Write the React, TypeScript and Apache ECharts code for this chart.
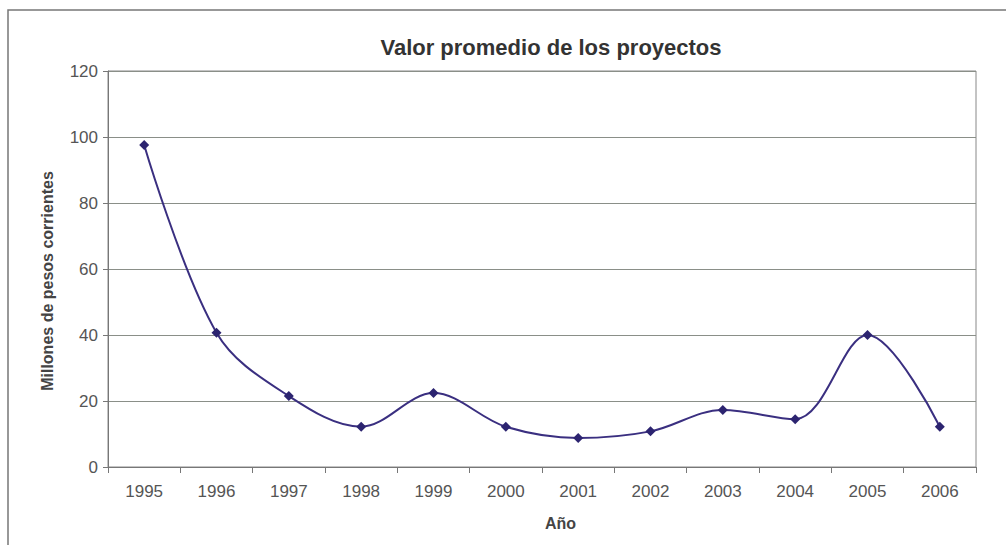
import React, { useEffect, useRef } from "react";
import * as echarts from "echarts";

const years = ["1995", "1996", "1997", "1998", "1999", "2000", "2001", "2002", "2003", "2004", "2005", "2006"];
const valores = [97.6, 40.7, 21.5, 12.2, 22.4, 12.2, 8.8, 10.8, 17.3, 14.5, 40.0, 12.2];
const yTicks = [0, 20, 40, 60, 80, 100, 120];

const titleText = "Valor promedio de los proyectos";
const yName = "Millones de pesos corrientes";
const xName = "Año";

export default function App() {
  const ref = useRef<HTMLDivElement>(null);
  useEffect(() => {
    if (!ref.current) return;
    const chart = echarts.init(ref.current, undefined, { renderer: "svg" });
    const font = "Arial, 'Liberation Sans', sans-serif";
    chart.setOption({
      animation: false,
      backgroundColor: "#ffffff",
      textStyle: { fontFamily: font },
      title: {
        text: titleText,
        left: 546,
        textAlign: "center",
        top: 31,
        textStyle: { fontFamily: font, fontSize: 22, fontWeight: "bold", color: "#333333" },
      },
      graphic: [
        {
          type: "polyline",
          shape: { points: [[8, 560], [8, 10], [1006, 10]] },
          style: { stroke: "#777777", lineWidth: 1.5, fill: null },
          silent: true,
        },
        {
          type: "text",
          x: 47,
          y: 281,
          rotation: Math.PI / 2,
          style: {
            text: yName,
            font: `bold 16px ${font}`,
            fill: "#444444",
            align: "center",
            verticalAlign: "middle",
          },
        },
        {
          type: "text",
          left: 545,
          top: 515,
          style: { text: xName, font: `bold 16px ${font}`, fill: "#444444", textAlign: "center" },
        },
      ],
      grid: {
        left: 108,
        right: 30,
        top: 71,
        bottom: 78,
        show: true,
        borderColor: "#888888",
        borderWidth: 1,
      },
      xAxis: {
        type: "category",
        data: years,
        boundaryGap: true,
        axisLine: { show: true, lineStyle: { color: "#777777", width: 1 } },
        axisTick: { show: true, alignWithLabel: false, length: 6, lineStyle: { color: "#777777" } },
        axisLabel: { color: "#555555", fontSize: 17, margin: 16, fontFamily: font },
        splitLine: { show: false },
      },
      yAxis: {
        type: "value",
        min: 0,
        max: 120,
        interval: 20,
        axisLine: { show: true, lineStyle: { color: "#777777", width: 1 } },
        axisTick: { show: true, inside: false, length: 5, lineStyle: { color: "#777777" } },
        axisLabel: {
          color: "#555555",
          fontSize: 17,
          margin: 10,
          fontFamily: font,
          formatter: (v: number) => (yTicks.includes(v) ? String(v) : ""),
        },
        splitLine: { show: true, lineStyle: { color: "#8a8f88", width: 1 } },
      },
      series: [
        {
          type: "line",
          data: valores,
          smooth: 0.35,
          symbol: "diamond",
          symbolSize: 10,
          lineStyle: { color: "#3a2f80", width: 2 },
          itemStyle: { color: "#2c2470" },
        },
      ],
    });
    return () => chart.dispose();
  }, []);
  return (
    <div
      ref={ref}
      style={{ position: "absolute", left: 0, top: 0, width: 1006, height: 545 }}
    />
  );
}
